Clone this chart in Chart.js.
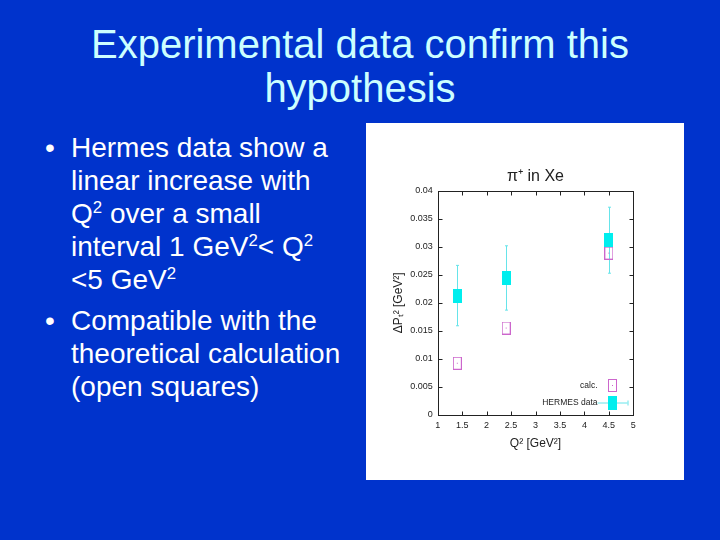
<!DOCTYPE html>
<html>
<head>
<meta charset="utf-8">
<script src="https://cdn.jsdelivr.net/npm/chart.js@4.4.0/dist/chart.umd.min.js"></script>
<style>
  body { margin: 0; width: 720px; height: 540px; background: #0033cc; overflow: hidden; position: relative;
         font-family: 'Liberation Sans', Arial, sans-serif; }
  .title { position: absolute; left: 0; top: 22px; width: 720px; text-align: center; color: #ccffff;
           font-size: 40px; line-height: 44px; }
  .bullet { position: absolute; left: 71px; color: #ffffff; font-size: 28px; line-height: 33px; white-space: nowrap; }
  .bullet::before { content: '\2022'; position: absolute; left: -26px; }
  sup { font-size: 0.6em; vertical-align: 0.6em; line-height: 0; }
  #panel { position: absolute; left: 366px; top: 123px; width: 318px; height: 357px; background: #ffffff; }
  #panel canvas { display: block; }
</style>
</head>
<body>
<div class="title">Experimental data confirm this<br>hypothesis</div>
<div class="bullet" style="top:131px">Hermes data show a<br>linear increase with<br>Q<sup>2</sup> over a small<br>interval 1 GeV<sup>2</sup>&lt; Q<sup>2</sup><br>&lt;5 GeV<sup>2</sup></div>
<div class="bullet" style="top:304px">Compatible with the<br>theoretical calculation<br>(open squares)</div>
<div id="panel"><canvas id="ptChart" width="318" height="357"></canvas></div>

<script>
// --- DATA ---
const q2Values = [1.4, 2.4, 4.5];
const hermesValues = [0.0213, 0.0244, 0.0312];
const hermesLow = [0.0159, 0.0187, 0.0253];
const hermesHigh = [0.0267, 0.0302, 0.0371];
const calcValues = [0.0092, 0.0155, 0.0289];

const xTicks = [1, 1.5, 2, 2.5, 3, 3.5, 4, 4.5, 5];
const xTickLabels = ['1', '1.5', '2', '2.5', '3', '3.5', '4', '4.5', '5'];
const yTicks = [0, 0.005, 0.01, 0.015, 0.02, 0.025, 0.03, 0.035, 0.04];
const yTickLabels = ['0', '0.005', '0.01', '0.015', '0.02', '0.025', '0.03', '0.035', '0.04'];

const CYAN = '#00eeee';
const CYAN_BAR = '#66e4ea';
const MAGENTA = '#cc66cc';
const font = "'Liberation Sans', Arial, sans-serif";

// small box markers (gnuplot style, taller than wide)
function boxMarker(w, h, fill, stroke) {
    const c = document.createElement('canvas');
    c.width = w; c.height = h;
    const g = c.getContext('2d');
    if (fill) {
        g.fillStyle = fill;
        g.fillRect(0, 0, w, h);
    } else {
        g.strokeStyle = stroke;
        g.lineWidth = 1;
        g.strokeRect(0.5, 0.5, w - 1, h - 1);
        g.fillStyle = stroke;
        g.fillRect(Math.floor(w / 2), Math.floor(h / 2), 1, 1);
    }
    return c;
}
const hermesMarker = boxMarker(9, 14, CYAN);
const calcMarker = boxMarker(9, 13, null, MAGENTA);

// error bars, frame with inward ticks, inset legend
const extras = {
    id: 'extras',
    beforeDatasetsDraw(chart) {
        const { ctx, scales: { x, y } } = chart;
        ctx.save();
        ctx.strokeStyle = CYAN_BAR;
        ctx.lineWidth = 1;
        q2Values.forEach((q, i) => {
            const px = Math.round(x.getPixelForValue(q)) + 0.5;
            const top = y.getPixelForValue(hermesHigh[i]);
            const bot = y.getPixelForValue(hermesLow[i]);
            ctx.beginPath();
            ctx.moveTo(px, top); ctx.lineTo(px, bot);
            ctx.moveTo(px - 1.5, top); ctx.lineTo(px + 1.5, top);
            ctx.moveTo(px - 1.5, bot); ctx.lineTo(px + 1.5, bot);
            ctx.stroke();
        });
        ctx.restore();
    },
    afterDraw(chart) {
        const { ctx, chartArea: a, scales: { x, y } } = chart;
        ctx.save();
        ctx.strokeStyle = '#222';
        ctx.lineWidth = 1;
        const L = Math.round(a.left) + 0.5, R = Math.round(a.right) + 0.5;
        const T = Math.round(a.top) + 0.5, B = Math.round(a.bottom) + 0.5;
        ctx.strokeRect(L, T, R - L, B - T);
        ctx.beginPath();
        xTicks.forEach(v => {
            const px = Math.round(x.getPixelForValue(v)) + 0.5;
            ctx.moveTo(px, B); ctx.lineTo(px, B - 4);
            ctx.moveTo(px, T); ctx.lineTo(px, T + 4);
        });
        yTicks.forEach(v => {
            const py = Math.round(y.getPixelForValue(v)) + 0.5;
            ctx.moveTo(L, py); ctx.lineTo(L + 4, py);
            ctx.moveTo(R, py); ctx.lineTo(R - 4, py);
        });
        ctx.stroke();

        // legend (inside plot, bottom right)
        const bx = R - 21;
        const rows = [
            { label: chart.data.datasets[1].label, y: B - 30, marker: calcMarker, line: false },
            { label: chart.data.datasets[0].label, y: B - 13, marker: hermesMarker, line: true }
        ];
        ctx.font = '8.5px ' + font;
        ctx.fillStyle = '#222';
        ctx.textAlign = 'right';
        ctx.textBaseline = 'middle';
        rows.forEach(r => {
            ctx.fillText(r.label, bx - 15, r.y);
            if (r.line) {
                ctx.strokeStyle = CYAN_BAR;
                ctx.beginPath();
                ctx.moveTo(bx - 15, r.y + 0.5); ctx.lineTo(bx + 15, r.y + 0.5);
                ctx.moveTo(bx + 15.5, r.y - 2); ctx.lineTo(bx + 15.5, r.y + 3);
                ctx.stroke();
            }
            ctx.drawImage(r.marker, Math.round(bx - r.marker.width / 2), Math.round(r.y - r.marker.height / 2));
        });
        ctx.restore();
    }
};

new Chart(document.getElementById('ptChart'), {
    type: 'scatter',
    data: {
        datasets: [
            {
                label: 'HERMES data',
                data: q2Values.map((q, i) => ({ x: q, y: hermesValues[i] })),
                pointStyle: hermesMarker,
                backgroundColor: CYAN,
                borderColor: CYAN
            },
            {
                label: 'calc.',
                data: q2Values.map((q, i) => ({ x: q, y: calcValues[i] })),
                pointStyle: calcMarker,
                backgroundColor: MAGENTA,
                borderColor: MAGENTA
            }
        ]
    },
    options: {
        responsive: false,
        animation: false,
        events: [],
        layout: { padding: { left: 0, right: 50.7, top: 0, bottom: 0 } },
        plugins: {
            legend: { display: false },
            tooltip: { enabled: false },
            title: {
                display: true,
                fullSize: false,
                text: 'π⁺ in Xe',
                color: '#222',
                font: { family: font, size: 16, weight: 'normal' },
                padding: { top: 44, bottom: 4.8 }
            }
        },
        scales: {
            x: {
                type: 'linear',
                min: 1, max: 5,
                afterBuildTicks: s => { s.ticks = xTicks.map(v => ({ value: v })); },
                afterFit: s => { s.height = 65.3; },
                grid: { display: false, drawTicks: false },
                border: { display: false },
                ticks: {
                    padding: 5,
                    color: '#222',
                    font: { family: font, size: 9 },
                    callback: (v, i) => xTickLabels[i]
                },
                title: {
                    display: true,
                    text: 'Q² [GeV²]',
                    color: '#222',
                    font: { family: font, size: 12 },
                    padding: { top: 0, bottom: 28.8 }
                }
            },
            y: {
                type: 'linear',
                min: 0, max: 0.04,
                afterBuildTicks: s => { s.ticks = yTicks.map(v => ({ value: v })); },
                afterFit: s => { s.width = 71.7; },
                grid: { display: false, drawTicks: false },
                border: { display: false },
                ticks: {
                    padding: 5,
                    color: '#222',
                    font: { family: font, size: 9 },
                    callback: (v, i) => yTickLabels[i]
                },
                title: {
                    display: true,
                    text: 'ΔPₜ² [GeV²]',
                    color: '#222',
                    font: { family: font, size: 12 },
                    padding: { top: 25, bottom: 0 }
                }
            }
        }
    },
    plugins: [extras]
});
</script>
</body>
</html>
